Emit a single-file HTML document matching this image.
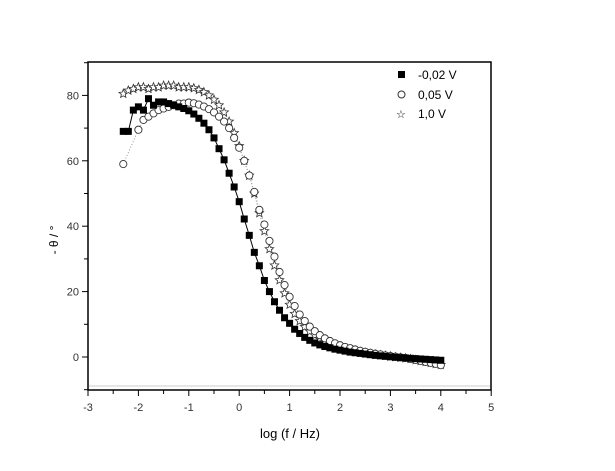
<!DOCTYPE html>
<html><head><meta charset="utf-8"><style>
body{margin:0;background:#fff}
svg{display:block;font-family:"Liberation Sans",sans-serif}
</style></head><body>
<svg id="chart" width="615" height="471" viewBox="0 0 615 471">
<rect width="615" height="471" fill="#fff"/>
<g id="axes"></g><g id="series"></g>
<g>
<rect x="398" y="71" width="7" height="7" fill="#000"/>
<text x="418" y="79" font-size="12">-0,02 V</text>
<circle cx="401.5" cy="94.5" r="3.5" fill="#fff" stroke="#333"/>
<text x="418" y="99" font-size="12">0,05 V</text>
<text x="396" y="118" font-size="11">☆</text>
<text x="418" y="118" font-size="12">1,0 V</text>
</g>
<text x="290" y="438" font-size="13" text-anchor="middle">log (f / Hz)</text>
<text transform="translate(58,240) rotate(-90)" font-size="12" text-anchor="middle">- θ / °</text>
</svg>
<script>
const logf=[-2.3,-2.2,-2.1,-2.0,-1.9,-1.8,-1.7,-1.6,-1.5,-1.4,-1.3,-1.2,-1.1,-1.0,-0.9,-0.8,-0.7,-0.6,-0.5,-0.4,-0.3,-0.2,-0.1,0.0,0.1,0.2,0.3,0.4,0.5,0.6,0.7,0.8,0.9,1.0,1.1,1.2,1.3,1.4,1.5,1.6,1.7,1.8,1.9,2.0,2.1,2.2,2.3,2.4,2.5,2.6,2.7,2.8,2.9,3.0,3.1,3.2,3.3,3.4,3.5,3.6,3.7,3.8,3.9,4.0];
const seriesA=[69,69,75.5,76.5,75.5,79,77,78,78,77.5,77,76.5,76,75.3,74.3,73,71.5,69.5,67,63.7,60.3,56.2,52,47.5,42.2,37.2,32,27.9,23.4,20,16.9,14.3,12,10.3,8.5,7.2,6,5.1,4.3,3.7,3.2,2.8,2.4,2.1,1.8,1.5,1.3,1.1,0.9,0.7,0.5,0.35,0.2,0.05,-0.1,-0.2,-0.3,-0.4,-0.5,-0.6,-0.7,-0.8,-0.9,-1.0];
const seriesB=[59,null,null,69.5,72.5,73.5,74.5,75.5,76,76.5,77,77.5,77.5,77.8,77.6,77.2,76.6,75.8,74.8,73.5,72,70,67,64,60,55.5,50.5,45,40.5,35.5,30.7,26,22,18.4,15.6,13,11,9.3,7.9,6.7,5.7,4.9,4.2,3.6,3.1,2.7,2.3,1.9,1.6,1.3,1.0,0.8,0.5,0.3,0.1,-0.1,-0.3,-0.6,-0.9,-1.2,-1.5,-1.8,-2.1,-2.5];
const seriesC=[80.5,81.5,82,82.5,82.5,82,82.5,82.5,83,83,83,82.5,82.5,82.5,82.2,81.7,81,80,78.7,77,74.8,72,68.5,64.5,60,55.5,50,44,38.5,33,28,23.5,19.5,16,13.2,11,9.2,7.8,6.6,5.6,4.8,4.1,3.5,3.0,2.6,2.2,1.9,1.6,1.3,1.0,0.8,0.6,0.4,0.2,0,-0.2,-0.4,-0.6,-0.9,-1.2,-1.5,-1.8,-2.1,-2.4];
const xTicks=[-3,-2,-1,0,1,2,3,4,5];
const yTicks=[0,20,40,60,80];
const X=v=>88+(v+3)*50.4, Y=v=>357-v*3.27;
const NS="http://www.w3.org/2000/svg";
function mk(tag,attrs,parent){const e=document.createElementNS(NS,tag);for(const k in attrs)e.setAttribute(k,attrs[k]);parent.appendChild(e);return e;}
const ax=document.getElementById('axes'), sg=document.getElementById('series');
const gl=mk('line',{x1:89,x2:490,y1:386,y2:386,stroke:'#ccc','stroke-width':1},ax);


const frame=mk('rect',{x:88,y:62,width:403,height:328,fill:'none',stroke:'#000','stroke-width':1.5},ax);


xTicks.forEach(v=>{
 const t=mk('line',{x1:X(v),x2:X(v),y1:390,y2:396,stroke:'#000'},ax);
 
 
 if(v<5){const m=mk('line',{x1:X(v+0.5),x2:X(v+0.5),y1:390,y2:394,stroke:'#000'},ax);
 
 }
 const l=mk('text',{x:X(v),y:411,'font-size':11,'text-anchor':'middle',fill:'#333'},ax);
 l.textContent=v;
 
 
});
[-10,0,10,20,30,40,50,60,70,80,90].forEach(v=>{
 const major=yTicks.includes(v);
 const t=mk('line',{x1:88-(major?6:4),x2:88,y1:Y(v),y2:Y(v),stroke:'#000'},ax);
 
 
});
yTicks.forEach(v=>{
 const l=mk('text',{x:79,y:Y(v)+4,'font-size':11,'text-anchor':'end',fill:'#333'},ax);
 l.textContent=v;
 
 
});
function pathOf(arr){let d='';arr.forEach((v,i)=>{if(v==null)return;d+=(d?'L':'M')+X(logf[i]).toFixed(1)+','+Y(v).toFixed(1);});return d;}
function star(cx,cy,r){let p=[];for(let i=0;i<10;i++){const a=-Math.PI/2+i*Math.PI/5,rr=i%2?r*0.45:r;p.push((cx+rr*Math.cos(a)).toFixed(1)+','+(cy+rr*Math.sin(a)).toFixed(1));}return p.join(' ');}
const lC=mk('path',{d:pathOf(seriesC),fill:'none',stroke:'#999','stroke-width':1,'stroke-dasharray':'1,2'},sg);


const lB=mk('path',{d:pathOf(seriesB),fill:'none',stroke:'#999','stroke-width':1,'stroke-dasharray':'1,2'},sg);


const lA=mk('path',{d:pathOf(seriesA),fill:'none',stroke:'#000','stroke-width':1},sg);


seriesC.forEach((v,i)=>{if(v==null)return;
 const p=mk('polygon',{points:star(X(logf[i]),Y(v),4.5),fill:'#fff',stroke:'#333','stroke-width':0.8},sg);
 
 });
seriesB.forEach((v,i)=>{if(v==null)return;
 const p=mk('circle',{cx:X(logf[i]),cy:Y(v),r:3.6,fill:'#fff',stroke:'#333','stroke-width':0.9},sg);
 
 });
seriesA.forEach((v,i)=>{if(v==null)return;
 const p=mk('rect',{x:X(logf[i])-3.5,y:Y(v)-3.5,width:7,height:7,fill:'#000'},sg);
 
 });
</script>
</body></html>
